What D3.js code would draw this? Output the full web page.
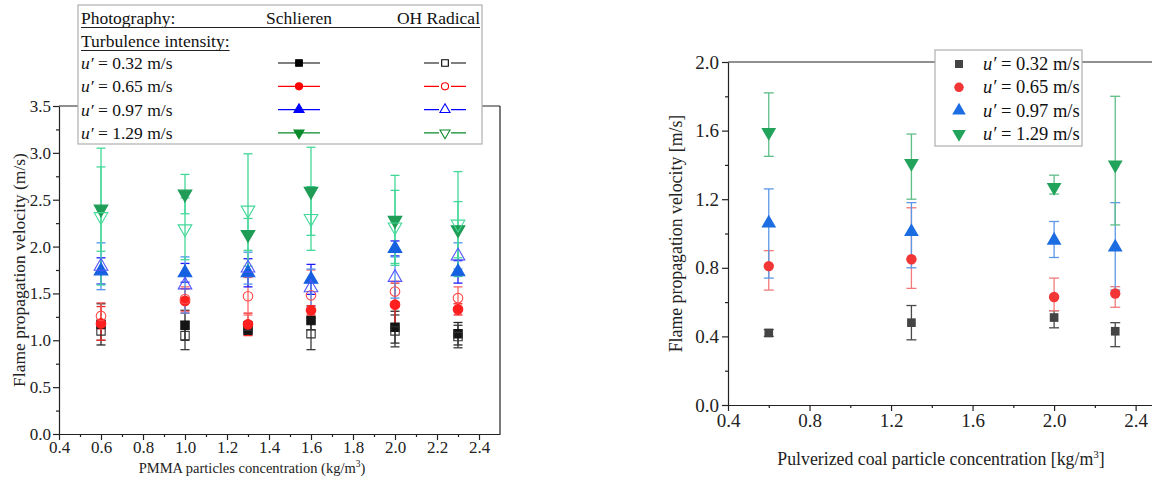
<!DOCTYPE html>
<html lang="en">
<head>
<meta charset="UTF-8">
<title>Flame propagation velocity</title>
<script src="https://d3js.org/d3.v7.min.js"></script>
<style>
  body { margin: 0; background: #fff; }
  svg { display: block; font-family: "Liberation Serif", "Times New Roman", serif; }
  .axis text { font-size: 17px; fill: #222; font-family: "Liberation Serif", serif; }
  .axis path, .axis line { stroke: #222; stroke-width: 1.2; }
</style>
</head>
<body>
<div id="chart"></div>
<script>
// ---- left panel: PMMA particles (Schlieren = filled, OH radical = hollow)
const pmmaConc = [0.6, 1.0, 1.3, 1.6, 2.0, 2.3];

const schBlack = [1.17, 1.16, 1.11, 1.21, 1.14, 1.07];
const schBlackErr = [0.22, 0.16, 0.05, 0.10, 0.17, 0.12];
const schRed = [1.18, 1.42, 1.17, 1.32, 1.38, 1.33];
const schRedErr = [0.18, 0.13, 0.12, 0.05, 0.23, 0.06];
const schBlue = [1.74, 1.72, 1.72, 1.65, 1.98, 1.73];
const schBlueErr = [0.14, 0.10, 0.15, 0.16, 0.08, 0.12];
const schGreen = [2.40, 2.56, 2.13, 2.59, 2.28, 2.18];
const schGreenErr = [0.45, 0.21, 0.17, 0.47, 0.48, 0.30];

const ohBlack = [1.10, 1.05, 1.15, 1.07, 1.10, 1.04];
const ohBlackErr = [0.10, 0.15, 0.05, 0.17, 0.17, 0.12];
const ohRed = [1.26, 1.44, 1.47, 1.48, 1.52, 1.45];
const ohRedErr = [0.14, 0.13, 0.20, 0.27, 0.11, 0.12];
const ohBlue = [1.79, 1.59, 1.77, 1.56, 1.67, 1.90];
const ohBlueErr = [0.25, 0.30, 0.17, 0.20, 0.22, 0.14];
const ohGreen = [2.32, 2.19, 2.39, 2.30, 2.21, 2.24];
const ohGreenErr = [0.73, 0.33, 0.60, 0.34, 0.39, 0.56];

const intensityLabels = ["0.32 m/s", "0.65 m/s", "0.97 m/s", "1.29 m/s"];

// ---- right panel: pulverized coal
const coalConc = [0.6, 1.3, 2.0, 2.3];
const coalBlack = [0.42, 0.48, 0.51, 0.43];
const coalBlackLo = [0.40, 0.38, 0.45, 0.34];
const coalBlackHi = [0.44, 0.58, 0.55, 0.48];
const coalRed = [0.81, 0.85, 0.63, 0.65];
const coalRedLo = [0.67, 0.68, 0.55, 0.57];
const coalRedHi = [0.90, 1.15, 0.74, 0.69];
const coalBlue = [1.06, 1.01, 0.96, 0.92];
const coalBlueLo = [0.74, 0.80, 0.86, 0.67];
const coalBlueHi = [1.26, 1.18, 1.07, 1.18];
const coalGreen = [1.59, 1.41, 1.27, 1.40];
const coalGreenLo = [1.45, 1.20, 1.23, 1.05];
const coalGreenHi = [1.82, 1.58, 1.34, 1.80];

const svg = d3.select("#chart").append("svg")
    .attr("width", 1152).attr("height", 486);
svg.append("rect").attr("width", 1152).attr("height", 486).attr("fill", "#fff");

const shapes = {
    square: d3.symbolSquare,
    circle: d3.symbolCircle,
    up: d3.symbolTriangle,
    down: d3.symbolTriangle
};

function marker(g, shape, size, x, y, fill, stroke) {
    g.append("path")
        .attr("d", d3.symbol().type(shapes[shape]).size(size)())
        .attr("transform", `translate(${x},${y})` + (shape === "down" ? " rotate(180)" : ""))
        .attr("fill", fill)
        .attr("stroke", stroke)
        .attr("stroke-width", 1.1);
}

function errBar(g, x, y1, y2, color, cap) {
    g.append("line").attr("x1", x).attr("x2", x).attr("y1", y1).attr("y2", y2)
        .attr("stroke", color).attr("stroke-width", 1.3);
    [y1, y2].forEach(y => g.append("line")
        .attr("x1", x - cap).attr("x2", x + cap).attr("y1", y).attr("y2", y)
        .attr("stroke", color).attr("stroke-width", 1.3));
}

// ================= LEFT PANEL =================
const lx = d3.scaleLinear().domain([0.4, 2.5]).range([59, 500]);
const ly = d3.scaleLinear().domain([0, 3.5]).range([434, 106]);
const left = svg.append("g");

// frame
left.append("line").attr("x1", lx(0.4)).attr("x2", lx(2.5)).attr("y1", ly(3.5)).attr("y2", ly(3.5))
    .attr("stroke", "#222").attr("stroke-width", 1.2);
left.append("line").attr("x1", lx(2.5)).attr("x2", lx(2.5)).attr("y1", ly(3.5)).attr("y2", ly(0))
    .attr("stroke", "#222").attr("stroke-width", 1.2);

left.append("g").attr("class", "axis").attr("transform", `translate(0,${ly(0)})`)
    .call(d3.axisBottom(lx).tickValues(d3.range(0.4, 2.41, 0.2)).tickFormat(d3.format(".1f"))
        .tickSize(6).tickSizeOuter(0).tickPadding(1));
left.append("g").attr("class", "axis").attr("transform", `translate(0,${ly(0)})`)
    .call(d3.axisBottom(lx).tickValues(d3.range(0.5, 2.5, 0.2)).tickFormat("").tickSize(3))
    .select(".domain").remove();
left.append("g").attr("class", "axis").attr("transform", `translate(${lx(0.4)},0)`)
    .call(d3.axisLeft(ly).tickValues(d3.range(0, 3.51, 0.5)).tickFormat(d3.format(".1f"))
        .tickSize(6).tickSizeOuter(0).tickPadding(2));
left.append("g").attr("class", "axis").attr("transform", `translate(${lx(0.4)},0)`)
    .call(d3.axisLeft(ly).tickValues(d3.range(0.25, 3.5, 0.5)).tickFormat("").tickSize(3))
    .select(".domain").remove();

const lxTitle = left.append("text").attr("x", 252).attr("y", 473).attr("text-anchor", "middle")
    .attr("font-size", 14.5).attr("fill", "#222").text("PMMA particles concentration (kg/m");
lxTitle.append("tspan").attr("font-size", 9.5).attr("dy", -6).text("3");
lxTitle.append("tspan").attr("dy", 6).text(")");
left.append("text").attr("transform", `translate(25,${(ly(0) + ly(3.5)) / 2}) rotate(-90)`)
    .attr("text-anchor", "middle").attr("font-size", 17.5).attr("fill", "#222")
    .text("Flame propagation velocity (m/s)");

const leftSeries = [
    { v: schBlack, e: schBlackErr, shape: "square", fill: "#151515", stroke: "#151515", err: "#262626" },
    { v: ohBlack, e: ohBlackErr, shape: "square", fill: "none", stroke: "#333", err: "#3a3a3a" },
    { v: schRed, e: schRedErr, shape: "circle", fill: "#ff1f1f", stroke: "#ff1f1f", err: "#f02a2a" },
    { v: ohRed, e: ohRedErr, shape: "circle", fill: "none", stroke: "#ff4a4a", err: "#ff6464" },
    { v: schBlue, e: schBlueErr, shape: "up", fill: "#1560e0", stroke: "#1560e0", err: "#1c1cff" },
    { v: ohBlue, e: ohBlueErr, shape: "up", fill: "none", stroke: "#5555ff", err: "#4e94f0" },
    { v: schGreen, e: schGreenErr, shape: "down", fill: "#1f9c55", stroke: "#1f9c55", err: "#43d898" },
    { v: ohGreen, e: ohGreenErr, shape: "down", fill: "none", stroke: "#43d898", err: "#43d898" }
];
const leftErr = left.append("g"), leftPts = left.append("g");
leftSeries.forEach(s => s.v.forEach((v, i) =>
    errBar(leftErr, lx(pmmaConc[i]), ly(v + s.e[i]), ly(v - s.e[i]), s.err, 4.5)));
leftSeries.forEach(s => s.v.forEach((v, i) =>
    marker(leftPts, s.shape, s.shape === "circle" ? 72 : (s.shape === "square" ? 70 : 80),
        lx(pmmaConc[i]), ly(v), s.fill, s.stroke)));

// left legend
const lg = svg.append("g");
lg.append("rect").attr("x", 78).attr("y", 5).attr("width", 404).attr("height", 139)
    .attr("fill", "#fff").attr("stroke", "#b0b0b0").attr("stroke-width", 1.2);
lg.append("text").attr("x", 81).attr("y", 24).attr("font-size", 17.5).attr("fill", "#111").text("Photography:");
lg.append("text").attr("x", 299).attr("y", 24).attr("font-size", 17.5).attr("fill", "#111")
    .attr("text-anchor", "middle").text("Schlieren");
lg.append("text").attr("x", 480).attr("y", 24).attr("font-size", 17.5).attr("fill", "#111")
    .attr("text-anchor", "end").text("OH Radical");
lg.append("line").attr("x1", 81).attr("x2", 480).attr("y1", 27.5).attr("y2", 27.5)
    .attr("stroke", "#222").attr("stroke-width", 1);
const turb = lg.append("text").attr("x", 81).attr("y", 47).attr("font-size", 17.5).attr("fill", "#111")
    .text("Turbulence intensity:");
lg.append("line").attr("x1", 81).attr("x2", 81 + turb.node().getComputedTextLength())
    .attr("y1", 50.5).attr("y2", 50.5).attr("stroke", "#222").attr("stroke-width", 1);

const legShapes = ["square", "circle", "up", "down"];
const legColors = ["#000", "#ff0000", "#0000ff", "#0a8a2a"];
intensityLabels.forEach((lab, i) => {
    const cy = 63 + i * 23.3;
    const t = lg.append("text").attr("x", 81).attr("y", cy + 6).attr("font-size", 17.5).attr("fill", "#111");
    t.append("tspan").attr("font-style", "italic").text("u\u2032");
    t.append("tspan").text(" = " + lab);
    [[299, legColors[i]], [445, "none"]].forEach(([cx, fill]) => {
        lg.append("line").attr("x1", cx - 21).attr("x2", cx + 21).attr("y1", cy).attr("y2", cy)
            .attr("stroke", legColors[i]).attr("stroke-width", 1.2);
        if (fill === "none") {
            lg.append("rect").attr("x", cx - 6).attr("y", cy - 6).attr("width", 12).attr("height", 12).attr("fill", "#fff");
        }
        marker(lg, legShapes[i], legShapes[i] === "circle" ? 40 : 44, cx, cy,
            fill === "none" ? "#fff" : fill, legColors[i]);
    });
});

// ================= RIGHT PANEL =================
const rx = d3.scaleLinear().domain([0.4, 2.5]).range([728, 1156]);
const ry = d3.scaleLinear().domain([0, 2]).range([405, 62]);
const right = svg.append("g");

right.append("line").attr("x1", rx(0.4)).attr("x2", 1152).attr("y1", ry(2)).attr("y2", ry(2))
    .attr("stroke", "#222").attr("stroke-width", 1.2);
right.append("g").attr("class", "axis").attr("transform", `translate(0,${ry(0)})`)
    .call(d3.axisBottom(rx).tickValues(d3.range(0.4, 2.41, 0.4)).tickFormat(d3.format(".1f"))
        .tickSize(6).tickSizeOuter(0).tickPadding(3))
    .selectAll("text").style("font-size", "19px");
right.append("g").attr("class", "axis").attr("transform", `translate(0,${ry(0)})`)
    .call(d3.axisBottom(rx).tickValues(d3.range(0.6, 2.5, 0.4)).tickFormat("").tickSize(3))
    .select(".domain").remove();
right.append("g").attr("class", "axis").attr("transform", `translate(${rx(0.4)},0)`)
    .call(d3.axisLeft(ry).tickValues(d3.range(0, 2.01, 0.4)).tickFormat(d3.format(".1f"))
        .tickSize(6).tickSizeOuter(0).tickPadding(3))
    .selectAll("text").style("font-size", "19px");
right.append("g").attr("class", "axis").attr("transform", `translate(${rx(0.4)},0)`)
    .call(d3.axisLeft(ry).tickValues(d3.range(0.2, 2, 0.4)).tickFormat("").tickSize(3))
    .select(".domain").remove();

const rxTitle = right.append("text").attr("x", 941).attr("y", 465).attr("text-anchor", "middle")
    .attr("font-size", 17.8).attr("fill", "#222").text("Pulverized coal particle concentration [kg/m");
rxTitle.append("tspan").attr("font-size", 11).attr("dy", -7).text("3");
rxTitle.append("tspan").attr("dy", 7).text("]");
right.append("text").attr("transform", `translate(682,${(ry(0) + ry(2)) / 2}) rotate(-90)`)
    .attr("text-anchor", "middle").attr("font-size", 17.8).attr("fill", "#222")
    .text("Flame propagation velocity [m/s]");

const rightSeries = [
    { v: coalBlack, lo: coalBlackLo, hi: coalBlackHi, shape: "square", color: "#444", err: "#4a4a4a" },
    { v: coalRed, lo: coalRedLo, hi: coalRedHi, shape: "circle", color: "#f23535", err: "#f27a7a" },
    { v: coalBlue, lo: coalBlueLo, hi: coalBlueHi, shape: "up", color: "#1c6de2", err: "#5c98e6" },
    { v: coalGreen, lo: coalGreenLo, hi: coalGreenHi, shape: "down", color: "#22a35b", err: "#5fbd88" }
];
const rightErr = right.append("g"), rightPts = right.append("g");
rightSeries.forEach(s => s.v.forEach((v, i) =>
    errBar(rightErr, rx(coalConc[i]), ry(s.hi[i]), ry(s.lo[i]), s.err, 5)));
rightSeries.forEach(s => s.v.forEach((v, i) =>
    marker(rightPts, s.shape, s.shape === "circle" ? 85 : (s.shape === "square" ? 75 : 95),
        rx(coalConc[i]), ry(v), s.color, "none")));

// right legend
const rg = svg.append("g");
rg.append("rect").attr("x", 935).attr("y", 50).attr("width", 147).attr("height", 96)
    .attr("fill", "#fff").attr("stroke", "#b0b0b0").attr("stroke-width", 1.2);
rightSeries.forEach((s, i) => {
    const cy = 64 + i * 23.3;
    marker(rg, s.shape, s.shape === "circle" ? 70 : (s.shape === "square" ? 64 : 80), 959, cy, s.color, "none");
    const t = rg.append("text").attr("x", 983).attr("y", cy + 6).attr("font-size", 18.5).attr("fill", "#111");
    t.append("tspan").attr("font-style", "italic").text("u\u2032");
    t.append("tspan").text(" = " + intensityLabels[i]);
});
</script>
</body>
</html>
